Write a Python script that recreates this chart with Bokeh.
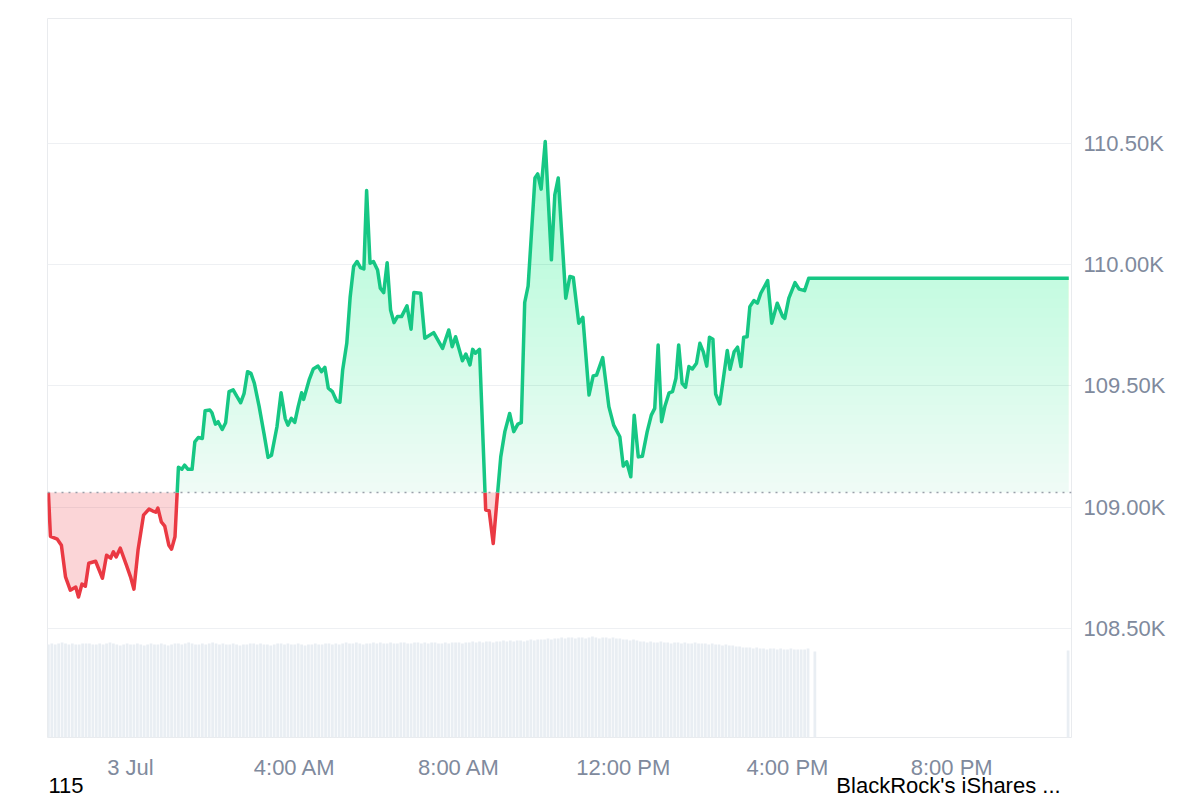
import numpy as np
from bokeh.plotting import figure
from bokeh.models import Range1d, FixedTicker, Span, LinearAxis
from bokeh.embed import file_html
from bokeh.resources import INLINE

# ---- data (time in minutes from 00:00 on 3 Jul; price in USD) ----
times = [
    -120, -117, -107, -101, -95, -88, -80, -76, -71, -66,
    -61, -51, -41, -35, -29, -25, -21, -15, -6, 0,
    5, 11, 19, 27, 32, 37, 40, 45, 50, 56,
    60, 65, 70, 75, 79, 84, 90, 94, 99, 105,
    109, 116, 119, 124, 128, 134, 139, 144, 150, 155,
    161, 166, 171, 176, 181, 188, 195, 201, 206, 214,
    220, 226, 230, 235, 240, 245, 250, 253, 261, 267,
    274, 279, 284, 289, 295, 301, 306, 310, 316, 321,
    326, 331, 336, 341, 345, 350, 355, 361, 365, 370,
    375, 380, 385, 390, 396, 404, 410, 414, 424, 430,
    443, 456, 465, 470, 475, 485, 490, 496, 500, 504,
    510, 519, 524, 530, 541, 547, 554, 560, 566, 571,
    576, 581, 591, 595, 600, 606, 615, 620, 625, 636,
    642, 647, 655, 661, 670, 676, 681, 690, 699, 706,
    715, 720, 725, 731, 736, 742, 748, 755, 761, 766,
    771, 776, 781, 787, 792, 797, 801, 806, 811, 816,
    821, 827, 832, 837, 842, 846, 851, 855, 861, 866,
    872, 876, 882, 887, 892, 896, 901, 905, 911, 916,
    921, 931, 937, 945, 953, 956, 962, 971, 977, 985,
    991, 1371,
]
prices = [
    109060, 108880, 108868, 108843, 108713, 108658, 108671, 108630, 108683, 108674,
    108769, 108777, 108707, 108802, 108790, 108816, 108795, 108831, 108761, 108713,
    108662, 108823, 108967, 108992, 108985, 108979, 108996, 108939, 108922, 108843,
    108827, 108878, 109164, 109156, 109173, 109156, 109156, 109269, 109287, 109283,
    109397, 109400, 109389, 109342, 109352, 109320, 109348, 109476, 109483, 109458,
    109430, 109469, 109558, 109551, 109510, 109414, 109304, 109205, 109214, 109331,
    109471, 109366, 109338, 109366, 109349, 109414, 109471, 109444, 109524, 109569,
    109581, 109558, 109576, 109490, 109476, 109438, 109432, 109565, 109675, 109867,
    109991, 110012, 109987, 109981, 110304, 110005, 110012, 109977, 109902, 109884,
    110007, 109812, 109760, 109785, 109785, 109829, 109733, 109884, 109881, 109696,
    109719, 109654, 109730, 109661, 109702, 109603, 109631, 109586, 109650, 109634,
    109650, 108988, 108985, 108850, 109207, 109311, 109386, 109311, 109342, 109348,
    109843, 109911, 110356, 110373, 110310, 110506, 110019, 110287, 110356, 109861,
    109950, 109946, 109758, 109782, 109462, 109540, 109544, 109616, 109414, 109338,
    109290, 109169, 109187, 109125, 109379, 109207, 109210, 109311, 109379, 109407,
    109668, 109352, 109417, 109471, 109476, 109531, 109668, 109510, 109494, 109579,
    109569, 109593, 109675, 109640, 109581, 109700, 109692, 109466, 109425, 109524,
    109645, 109568, 109640, 109659, 109579, 109700, 109702, 109826, 109851, 109840,
    109881, 109933, 109758, 109840, 109785, 109778, 109861, 109925, 109898, 109892,
    109943, 109943,
]
open_price = 109060

vol_times = list(range(-120, 995, 5)) + [1000, 1370]
vol_values = [
    93, 94, 93, 94, 95, 94, 93, 94, 93, 93, 94, 94,
    94, 93, 93, 94, 93, 94, 95, 94, 93, 92, 93, 94,
    93, 93, 94, 93, 92, 93, 94, 93, 93, 94, 93, 92,
    93, 94, 94, 93, 94, 95, 94, 93, 93, 94, 93, 94,
    95, 94, 93, 94, 93, 93, 94, 93, 92, 93, 93, 94,
    94, 93, 94, 93, 93, 92, 93, 94, 94, 93, 94, 93,
    93, 94, 93, 92, 93, 93, 94, 93, 93, 94, 94, 93,
    94, 93, 94, 95, 94, 94, 95, 94, 93, 94, 94, 95,
    94, 95, 94, 94, 95, 94, 94, 95, 95, 94, 94, 95,
    95, 94, 95, 94, 95, 95, 94, 94, 95, 94, 95, 95,
    95, 94, 95, 95, 96, 95, 96, 95, 96, 96, 95, 96,
    96, 97, 96, 97, 96, 97, 97, 96, 97, 98, 97, 98,
    98, 98, 99, 98, 99, 99, 100, 99, 100, 100, 99, 100,
    100, 99, 100, 101, 100, 99, 100, 100, 99, 100, 99, 99,
    98, 98, 97, 98, 97, 96, 96, 95, 96, 95, 95, 96,
    95, 95, 94, 95, 95, 94, 95, 94, 94, 95, 94, 94,
    94, 93, 94, 93, 93, 92, 93, 92, 92, 91, 91, 90,
    90, 90, 89, 90, 89, 89, 88, 89, 89, 88, 89, 88,
    88, 89, 88, 88, 88, 88, 89,
    86, 87,
]

x_ticks = [0, 240, 480, 720, 960, 1200]
x_labels = ["3 Jul", "4:00 AM", "8:00 AM", "12:00 PM", "4:00 PM", "8:00 PM"]
y_ticks = [108500, 109000, 109500, 110000, 110500]
y_labels = ["108.50K", "109.00K", "109.50K", "110.00K", "110.50K"]
footer_texts = ["115", "BlackRock's iShares ..."]

assert len(times) == len(prices)
assert len(vol_times) == len(vol_values)

GREEN = "#16c784"
RED = "#ea3943"
LABEL_GREY = "#808a9d"
FONT = "Liberation Sans"

X_START, X_END = -121.3, 1375.0
FRAME_W = 1024


def with_crossings(t, p, level):
    xs, ys = [t[0]], [p[0]]
    for i in range(1, len(t)):
        a, b = p[i - 1] - level, p[i] - level
        if a * b < 0:
            f = a / (a - b)
            xs.append(t[i - 1] + f * (t[i] - t[i - 1]))
            ys.append(level)
        xs.append(t[i])
        ys.append(p[i])
    return np.array(xs, float), np.array(ys, float)


def px_to_x(px):
    # horizontal pixel offset inside the frame -> x data value (footer text placement)
    return X_START + px * (X_END - X_START) / FRAME_W


t = np.array(times, float)
pr = np.array(prices, float)

p = figure(
    width=1192, height=800,
    x_range=Range1d(X_START, X_END), y_range=Range1d(108051, 111013),
    output_backend="svg", toolbar_location=None,
    y_axis_location="right",
    min_border_left=47, min_border_top=18, min_border_right=121, min_border_bottom=63,
    background_fill_color="white", border_fill_color="white",
)
p.outline_line_color = "#e9ebee"
p.outline_line_width = 1

p.extra_y_ranges = {"vol": Range1d(0, 719)}
p.vbar(x=vol_times, top=vol_values, bottom=0, width=4.0, y_range_name="vol",
       fill_color="#e9eef3", line_color=None)

# red fill below open
xs, ys = with_crossings(t, pr, open_price)
p.varea(x=xs, y1=np.minimum(ys, open_price), y2=np.full_like(ys, open_price),
        fill_color=RED, fill_alpha=0.21)

# green gradient fill above open (stacked translucent layers)
levels = np.arange(open_price, 110560, 40)
for i, lv in enumerate(levels):
    lx, ly = with_crossings(t, pr, lv)
    p.varea(x=lx, y1=np.full_like(ly, lv), y2=np.maximum(ly, lv),
            fill_color=GREEN, fill_alpha=0.07 if i == 0 else 0.0072)

green_y = np.where(ys >= open_price, ys, np.nan)
red_y = np.where(ys <= open_price, ys, np.nan)
p.line(xs, red_y, line_color=RED, line_width=3.5, line_join="round")
p.line(xs, green_y, line_color=GREEN, line_width=3.5, line_join="round")

p.add_layout(Span(location=open_price, dimension="width", line_color="#9aa0aa",
                  line_width=1.5, line_dash="2 5"))

p.xgrid.visible = False
p.ygrid.grid_line_color = "#eef0f3"
p.ygrid.grid_line_width = 1

xax = p.below[0]
yax = p.right[0]
xax.ticker = FixedTicker(ticks=x_ticks)
xax.major_label_overrides = dict(zip(x_ticks, x_labels))
yax.ticker = FixedTicker(ticks=y_ticks)
yax.major_label_overrides = dict(zip(y_ticks, y_labels))
for ax in (xax, yax):
    ax.axis_line_color = None
    ax.major_tick_line_color = None
    ax.minor_tick_line_color = None
    ax.major_tick_out = 0
    ax.major_tick_in = 0
    ax.minor_tick_out = 0
    ax.major_label_text_color = LABEL_GREY
    ax.major_label_text_font = FONT
    ax.major_label_text_font_size = "22px"
xax.major_label_standoff = 17
yax.major_label_standoff = 12

# footer texts shown under the time axis
footer_pos = [px_to_x(18.5), px_to_x(901)]
fax = LinearAxis(ticker=FixedTicker(ticks=footer_pos),
                 major_label_overrides=dict(zip(footer_pos, footer_texts)))
fax.axis_line_color = None
fax.major_tick_line_color = None
fax.minor_tick_line_color = None
fax.major_tick_out = 0
fax.major_tick_in = 0
fax.minor_tick_out = 0
fax.major_label_standoff = -10
fax.major_label_text_color = "black"
fax.major_label_text_font = FONT
fax.major_label_text_font_size = "22px"
p.add_layout(fax, "below")

open("out.html", "w").write(file_html(p, INLINE))
